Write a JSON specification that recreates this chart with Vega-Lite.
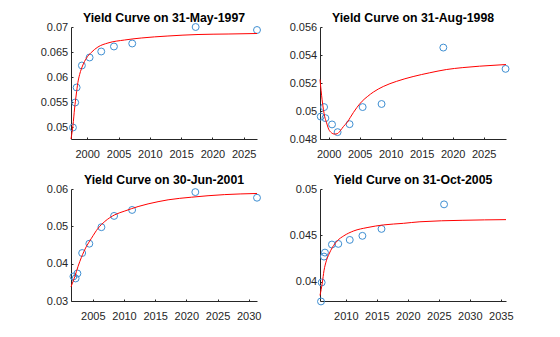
{
  "$schema": "https://vega.github.io/schema/vega-lite/v6.json",
  "background": "white",
  "padding": {"left": 39, "top": 12, "right": 5, "bottom": 5},
  "datasets": {
    "obs": [
      {"p": 1, "t": 1997.72, "y": 0.0499},
      {"p": 1, "t": 1998.08, "y": 0.0549},
      {"p": 1, "t": 1998.31, "y": 0.0579},
      {"p": 1, "t": 1999.15, "y": 0.0623},
      {"p": 1, "t": 2000.38, "y": 0.0639},
      {"p": 1, "t": 2002.24, "y": 0.0651},
      {"p": 1, "t": 2004.27, "y": 0.0661},
      {"p": 1, "t": 2007.19, "y": 0.0667},
      {"p": 1, "t": 2017.32, "y": 0.0700},
      {"p": 1, "t": 2027.12, "y": 0.0694},
      {"p": 2, "t": 1998.72, "y": 0.0496},
      {"p": 2, "t": 1999.26, "y": 0.05028},
      {"p": 2, "t": 1999.47, "y": 0.04949},
      {"p": 2, "t": 2000.54, "y": 0.04904},
      {"p": 2, "t": 2001.44, "y": 0.04849},
      {"p": 2, "t": 2003.37, "y": 0.04906},
      {"p": 2, "t": 2005.48, "y": 0.05028},
      {"p": 2, "t": 2008.53, "y": 0.0505},
      {"p": 2, "t": 2018.49, "y": 0.05453},
      {"p": 2, "t": 2028.53, "y": 0.05301},
      {"p": 3, "t": 2001.89, "y": 0.03657},
      {"p": 3, "t": 2002.24, "y": 0.03604},
      {"p": 3, "t": 2002.53, "y": 0.03737},
      {"p": 3, "t": 2003.29, "y": 0.04285},
      {"p": 3, "t": 2004.44, "y": 0.04535},
      {"p": 3, "t": 2006.38, "y": 0.04977},
      {"p": 3, "t": 2008.41, "y": 0.05279},
      {"p": 3, "t": 2011.3, "y": 0.05439},
      {"p": 3, "t": 2021.44, "y": 0.05917},
      {"p": 3, "t": 2031.33, "y": 0.05766},
      {"p": 4, "t": 2005.99, "y": 0.03785},
      {"p": 4, "t": 2006.1, "y": 0.0399},
      {"p": 4, "t": 2006.47, "y": 0.0427},
      {"p": 4, "t": 2006.63, "y": 0.04313},
      {"p": 4, "t": 2007.75, "y": 0.0440},
      {"p": 4, "t": 2008.78, "y": 0.04407},
      {"p": 4, "t": 2010.63, "y": 0.0445},
      {"p": 4, "t": 2012.67, "y": 0.04494},
      {"p": 4, "t": 2015.75, "y": 0.04569},
      {"p": 4, "t": 2025.84, "y": 0.04834}
    ],
    "fit": [
      {"p": 1, "t": 1997.41, "y": 0.0476},
      {"p": 1, "t": 1997.58, "y": 0.0490},
      {"p": 1, "t": 1997.72, "y": 0.0503},
      {"p": 1, "t": 1997.99, "y": 0.0538},
      {"p": 1, "t": 1998.24, "y": 0.0564},
      {"p": 1, "t": 1998.51, "y": 0.0589},
      {"p": 1, "t": 1998.79, "y": 0.0605},
      {"p": 1, "t": 1999.31, "y": 0.0624},
      {"p": 1, "t": 1999.84, "y": 0.0637},
      {"p": 1, "t": 2000.64, "y": 0.0649},
      {"p": 1, "t": 2001.71, "y": 0.0660},
      {"p": 1, "t": 2003.31, "y": 0.0668},
      {"p": 1, "t": 2005.97, "y": 0.0674},
      {"p": 1, "t": 2008.63, "y": 0.0678},
      {"p": 1, "t": 2012.89, "y": 0.0682},
      {"p": 1, "t": 2017.7, "y": 0.0685},
      {"p": 1, "t": 2022.5, "y": 0.0686},
      {"p": 1, "t": 2027.12, "y": 0.0687},
      {"p": 2, "t": 1998.6, "y": 0.05225},
      {"p": 2, "t": 1998.94, "y": 0.0508},
      {"p": 2, "t": 1999.36, "y": 0.0496},
      {"p": 2, "t": 1999.63, "y": 0.0492},
      {"p": 2, "t": 2000.0, "y": 0.0487},
      {"p": 2, "t": 2000.43, "y": 0.04845},
      {"p": 2, "t": 2000.91, "y": 0.04835},
      {"p": 2, "t": 2001.39, "y": 0.04838},
      {"p": 2, "t": 2001.88, "y": 0.0486},
      {"p": 2, "t": 2002.4, "y": 0.0489},
      {"p": 2, "t": 2003.0, "y": 0.0492},
      {"p": 2, "t": 2003.5, "y": 0.04955},
      {"p": 2, "t": 2004.0, "y": 0.0499},
      {"p": 2, "t": 2004.55, "y": 0.05025},
      {"p": 2, "t": 2005.4, "y": 0.0507},
      {"p": 2, "t": 2006.3, "y": 0.05105},
      {"p": 2, "t": 2007.2, "y": 0.05135},
      {"p": 2, "t": 2008.8, "y": 0.05175},
      {"p": 2, "t": 2010.96, "y": 0.05212},
      {"p": 2, "t": 2013.62, "y": 0.05246},
      {"p": 2, "t": 2016.3, "y": 0.05273},
      {"p": 2, "t": 2018.97, "y": 0.05296},
      {"p": 2, "t": 2021.63, "y": 0.0531},
      {"p": 2, "t": 2024.31, "y": 0.0532},
      {"p": 2, "t": 2028.6, "y": 0.05332},
      {"p": 3, "t": 2001.5, "y": 0.0338},
      {"p": 3, "t": 2002.12, "y": 0.0366},
      {"p": 3, "t": 2002.64, "y": 0.0393},
      {"p": 3, "t": 2003.17, "y": 0.0417},
      {"p": 3, "t": 2003.97, "y": 0.0446},
      {"p": 3, "t": 2004.78, "y": 0.0468},
      {"p": 3, "t": 2005.85, "y": 0.0495},
      {"p": 3, "t": 2006.92, "y": 0.0513},
      {"p": 3, "t": 2008.53, "y": 0.0531},
      {"p": 3, "t": 2010.13, "y": 0.0541},
      {"p": 3, "t": 2012.26, "y": 0.0553},
      {"p": 3, "t": 2015.46, "y": 0.0566},
      {"p": 3, "t": 2017.07, "y": 0.0571},
      {"p": 3, "t": 2020.8, "y": 0.0578},
      {"p": 3, "t": 2026.15, "y": 0.0585},
      {"p": 3, "t": 2031.33, "y": 0.0588},
      {"p": 4, "t": 2005.83, "y": 0.0385},
      {"p": 4, "t": 2006.21, "y": 0.0399},
      {"p": 4, "t": 2006.47, "y": 0.04116},
      {"p": 4, "t": 2006.85, "y": 0.04224},
      {"p": 4, "t": 2007.27, "y": 0.04295},
      {"p": 4, "t": 2007.81, "y": 0.04367},
      {"p": 4, "t": 2008.62, "y": 0.0444},
      {"p": 4, "t": 2009.67, "y": 0.04494},
      {"p": 4, "t": 2011.27, "y": 0.04547},
      {"p": 4, "t": 2013.42, "y": 0.04583},
      {"p": 4, "t": 2016.07, "y": 0.04612},
      {"p": 4, "t": 2019.28, "y": 0.04629},
      {"p": 4, "t": 2021.95, "y": 0.04646},
      {"p": 4, "t": 2028.88, "y": 0.04662},
      {"p": 4, "t": 2035.83, "y": 0.04669}
    ]
  },
  "columns": 2,
  "spacing": {"row": 15, "column": 25},
  "concat": [
    {
      "width": 186, "height": 112,
      "title": {"text": "Yield Curve on 31-May-1997"},
      "encoding": {
        "x": {"field": "t", "type": "quantitative", "scale": {"domain": [1997.41, 2027.12], "nice": false, "zero": false}, "axis": {"values": [2000, 2005, 2010, 2015, 2020, 2025], "format": "d", "title": null}},
        "y": {"field": "y", "type": "quantitative", "scale": {"domain": [0.0476, 0.07], "nice": false, "zero": false}, "axis": {"values": [0.05, 0.055, 0.06, 0.065, 0.07], "format": ".3~f", "title": null}}
      },
      "layer": [
        {"data": {"name": "obs"}, "transform": [{"filter": "datum.p == 1"}], "mark": {"type": "point", "shape": "circle", "filled": false, "size": 48, "stroke": "#3F8FD2", "strokeWidth": 1, "opacity": 1, "clip": false}},
        {"data": {"name": "fit"}, "transform": [{"filter": "datum.p == 1"}], "mark": {"type": "line", "color": "#FF0000", "strokeWidth": 1, "interpolate": "monotone"}}
      ]
    },
    {
      "width": 186, "height": 112,
      "title": {"text": "Yield Curve on 31-Aug-1998"},
      "encoding": {
        "x": {"field": "t", "type": "quantitative", "scale": {"domain": [1998.6, 2028.6], "nice": false, "zero": false}, "axis": {"values": [2000, 2005, 2010, 2015, 2020, 2025], "format": "d", "title": null}},
        "y": {"field": "y", "type": "quantitative", "scale": {"domain": [0.048, 0.056], "nice": false, "zero": false}, "axis": {"values": [0.048, 0.05, 0.052, 0.054, 0.056], "format": ".3~f", "title": null}}
      },
      "layer": [
        {"data": {"name": "obs"}, "transform": [{"filter": "datum.p == 2"}], "mark": {"type": "point", "shape": "circle", "filled": false, "size": 48, "stroke": "#3F8FD2", "strokeWidth": 1, "opacity": 1, "clip": false}},
        {"data": {"name": "fit"}, "transform": [{"filter": "datum.p == 2"}], "mark": {"type": "line", "color": "#FF0000", "strokeWidth": 1, "interpolate": "monotone"}}
      ]
    },
    {
      "width": 186, "height": 112,
      "title": {"text": "Yield Curve on 30-Jun-2001"},
      "encoding": {
        "x": {"field": "t", "type": "quantitative", "scale": {"domain": [2001.5, 2031.33], "nice": false, "zero": false}, "axis": {"values": [2005, 2010, 2015, 2020, 2025, 2030], "format": "d", "title": null}},
        "y": {"field": "y", "type": "quantitative", "scale": {"domain": [0.03, 0.06], "nice": false, "zero": false}, "axis": {"values": [0.03, 0.04, 0.05, 0.06], "format": ".3~f", "title": null}}
      },
      "layer": [
        {"data": {"name": "obs"}, "transform": [{"filter": "datum.p == 3"}], "mark": {"type": "point", "shape": "circle", "filled": false, "size": 48, "stroke": "#3F8FD2", "strokeWidth": 1, "opacity": 1, "clip": false}},
        {"data": {"name": "fit"}, "transform": [{"filter": "datum.p == 3"}], "mark": {"type": "line", "color": "#FF0000", "strokeWidth": 1, "interpolate": "monotone"}}
      ]
    },
    {
      "width": 186, "height": 112,
      "title": {"text": "Yield Curve on 31-Oct-2005"},
      "encoding": {
        "x": {"field": "t", "type": "quantitative", "scale": {"domain": [2005.83, 2035.83], "nice": false, "zero": false}, "axis": {"values": [2010, 2015, 2020, 2025, 2030, 2035], "format": "d", "title": null}},
        "y": {"field": "y", "type": "quantitative", "scale": {"domain": [0.0379, 0.05], "nice": false, "zero": false}, "axis": {"values": [0.04, 0.045, 0.05], "format": ".3~f", "title": null}}
      },
      "layer": [
        {"data": {"name": "obs"}, "transform": [{"filter": "datum.p == 4"}], "mark": {"type": "point", "shape": "circle", "filled": false, "size": 48, "stroke": "#3F8FD2", "strokeWidth": 1, "opacity": 1, "clip": false}},
        {"data": {"name": "fit"}, "transform": [{"filter": "datum.p == 4"}], "mark": {"type": "line", "color": "#FF0000", "strokeWidth": 1, "interpolate": "monotone"}}
      ]
    }
  ],
  "config": {
    "font": "Liberation Sans",
    "view": {"stroke": null},
    "axis": {
      "grid": false,
      "domainColor": "#262626",
      "domainWidth": 1,
      "tickColor": "#262626",
      "tickWidth": 1,
      "tickSize": -2,
      "labelColor": "#262626",
      "labelFont": "Liberation Sans",
      "labelFontSize": 11,
      "labelOverlap": false,
      "labelFlush": false
    },
    "axisX": {"labelPadding": 11},
    "axisY": {"labelPadding": 5.3, "minExtent": 31.5, "maxExtent": 31.5},
    "title": {"font": "Liberation Sans", "fontSize": 12.3, "fontWeight": "bold", "color": "#000000", "baseline": "alphabetic", "offset": -3.5, "frame": "group", "anchor": "middle"}
  }
}
